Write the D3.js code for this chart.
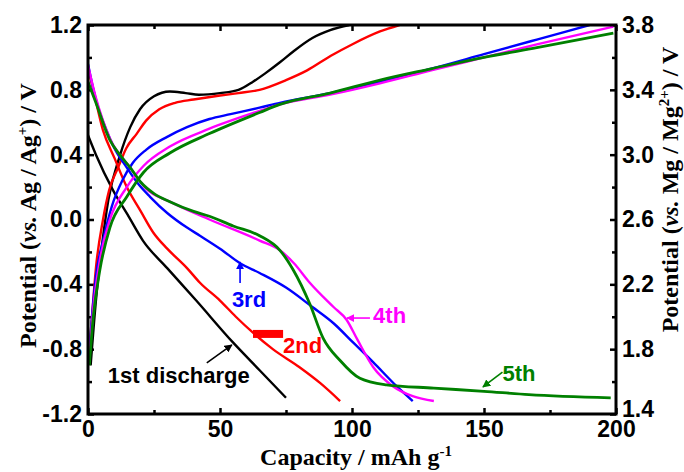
<!DOCTYPE html>
<html>
<head>
<meta charset="utf-8">
<script src="https://cdn.jsdelivr.net/npm/d3@7"></script>
<style>
  body { margin: 0; background: #fff; }
  .tick text { font-family: "Liberation Sans", Arial, sans-serif; font-weight: bold; font-size: 23px; fill: #000; }
  .axisTitle { font-family: "Liberation Serif", "Times New Roman", serif; font-weight: bold; font-size: 24px; fill: #000; }
  .note { font-family: "Liberation Sans", Arial, sans-serif; font-weight: bold; font-size: 22px; }
</style>
</head>
<body>
<div id="chart"></div>
<script>
// capacity (mAh/g) and potential (V vs Ag/Ag+) for each curve
var dis1Cap = [0, 3, 9.5, 15, 20.8, 30, 41, 55, 65, 75];
var dis1V   = [0.52, 0.40, 0.18, 0.03, -0.13, -0.30, -0.50, -0.76, -0.93, -1.10];
var chg1Cap = [1, 3, 5, 7.7, 12, 16, 19.7, 25, 31, 37, 42, 50, 57, 62.5, 67, 72.7, 78, 85, 92, 99];
var chg1V   = [-0.90, -0.50, -0.20, 0.12, 0.39, 0.57, 0.68, 0.76, 0.79, 0.78, 0.77, 0.78, 0.80, 0.85, 0.90, 0.97, 1.04, 1.12, 1.17, 1.20];

var dis2Cap = [0, 2, 5.7, 10, 14.7, 20, 24.7, 30, 37.5, 42.4, 50, 56, 62.6, 70, 80, 88, 95.5];
var dis2V   = [0.93, 0.80, 0.55, 0.38, 0.20, 0.05, -0.08, -0.18, -0.30, -0.39, -0.50, -0.60, -0.70, -0.80, -0.91, -1.01, -1.12];
var chg2Cap = [0.3, 1.5, 3, 5.7, 8, 11.4, 14.5, 18.5, 22, 27, 33, 40, 50, 57, 65, 75, 83, 92, 100, 110.6, 118];
var chg2V   = [-0.85, -0.60, -0.30, 0.0, 0.18, 0.32, 0.44, 0.53, 0.61, 0.68, 0.72, 0.74, 0.765, 0.78, 0.80, 0.86, 0.92, 1.01, 1.08, 1.16, 1.20];

var dis3Cap = [0, 1, 3, 7, 10, 14.7, 19, 23.5, 30, 37.5, 42.4, 50, 57.6, 65, 75, 85, 93, 100.5, 108, 117, 123];
var dis3V   = [0.96, 0.88, 0.74, 0.55, 0.44, 0.32, 0.22, 0.14, 0.04, -0.05, -0.10, -0.18, -0.27, -0.33, -0.42, -0.54, -0.64, -0.76, -0.88, -1.03, -1.12];
var chg3Cap = [0.3, 1.5, 3, 5.7, 9, 13, 17, 22, 30, 37.5, 46, 54, 65, 72.7, 91.7, 110.6, 130, 150, 170, 190];
var chg3V   = [-0.85, -0.60, -0.35, -0.13, 0.08, 0.24, 0.35, 0.43, 0.51, 0.57, 0.62, 0.65, 0.69, 0.72, 0.78, 0.85, 0.93, 1.02, 1.11, 1.20];

var dis4Cap = [0, 3, 8.3, 16, 22, 31, 46, 65, 72.7, 78, 84, 93, 98, 102, 108, 115.6, 123, 131];
var dis4V   = [0.95, 0.75, 0.50, 0.32, 0.19, 0.11, 0.0, -0.13, -0.19, -0.27, -0.39, -0.54, -0.62, -0.74, -0.91, -1.03, -1.09, -1.12];
var chg4Cap = [0.5, 2, 4.5, 8.3, 14.7, 21, 31, 46, 65, 72.7, 91.7, 110.6, 130, 150, 170, 199];
var chg4V   = [-0.85, -0.55, -0.25, 0.0, 0.20, 0.33, 0.45, 0.56, 0.67, 0.71, 0.77, 0.84, 0.92, 1.00, 1.08, 1.19];

var dis5Cap = [0, 3, 8.3, 12, 16, 20, 25, 31, 40, 46, 55, 65, 72.7, 77.7, 84, 89, 95.5, 103, 113, 131, 150, 167, 198];
var dis5V   = [0.85, 0.72, 0.49, 0.40, 0.32, 0.23, 0.16, 0.11, 0.05, 0.02, -0.04, -0.10, -0.19, -0.31, -0.52, -0.73, -0.87, -0.98, -1.02, -1.04, -1.06, -1.08, -1.10];
var chg5Cap = [0.5, 2, 4.5, 8.3, 14.7, 21, 31, 46, 65, 72.7, 91.7, 110.6, 130, 150, 170, 199];
var chg5V   = [-0.90, -0.60, -0.31, -0.05, 0.14, 0.29, 0.41, 0.53, 0.66, 0.71, 0.78, 0.86, 0.93, 1.00, 1.06, 1.15];

var curveColors = ["#000000", "#ff0000", "#0000ff", "#ff00ff", "#008000"];

var xTicks = [0, 50, 100, 150, 200];
var xMinor = [25, 75, 125, 175];
var yTicks = [-1.2, -0.8, -0.4, 0.0, 0.4, 0.8, 1.2];
var yMinor = [-1.0, -0.6, -0.2, 0.2, 0.6, 1.0];
var y2Ticks = [1.4, 1.8, 2.2, 2.6, 3.0, 3.4, 3.8];
var y2Minor = [1.6, 2.0, 2.4, 2.8, 3.2, 3.6];

var svgWidth = 684;
var svgHeight = 472;
var margin = { top: 25, right: 68, bottom: 58, left: 88 };
var width = svgWidth - margin.left - margin.right;
var height = svgHeight - margin.top - margin.bottom;

var svg = d3.select("#chart")
    .append("svg")
    .attr("width", svgWidth)
    .attr("height", svgHeight);

var chartGroup = svg.append("g")
    .attr("transform", `translate(${margin.left}, ${margin.top})`);

var xScale = d3.scaleLinear().domain([0, 200]).range([0, width]);
var yScale = d3.scaleLinear().domain([-1.2, 1.2]).range([height, 0]);
var y2Scale = d3.scaleLinear().domain([1.4, 3.8]).range([height, 0]);

var fmt1 = d => d.toFixed(1);

function styleAxis(g) {
    g.select(".domain").remove();
    g.selectAll(".tick line").attr("stroke", "#000").attr("stroke-width", 2.5);
}

// major + minor ticks, all pointing inward
chartGroup.append("g")
    .attr("transform", `translate(0, ${height})`)
    .call(d3.axisBottom(xScale).tickValues(xTicks).tickSize(-6).tickPadding(7).tickFormat(d3.format("d")))
    .call(styleAxis);
chartGroup.append("g")
    .attr("transform", `translate(0, ${height})`)
    .call(d3.axisBottom(xScale).tickValues(xMinor).tickSize(-4).tickFormat(""))
    .call(styleAxis);
chartGroup.append("g")
    .call(d3.axisTop(xScale).tickValues(xTicks).tickSize(-6).tickFormat(""))
    .call(styleAxis);
chartGroup.append("g")
    .call(d3.axisTop(xScale).tickValues(xMinor).tickSize(-4).tickFormat(""))
    .call(styleAxis);

chartGroup.append("g")
    .call(d3.axisLeft(yScale).tickValues(yTicks).tickSize(-6).tickPadding(6).tickFormat(fmt1))
    .call(styleAxis);
chartGroup.append("g")
    .call(d3.axisLeft(yScale).tickValues(yMinor).tickSize(-4).tickFormat(""))
    .call(styleAxis);

var rightAxis = chartGroup.append("g")
    .attr("transform", `translate(${width}, 0)`)
    .call(d3.axisRight(y2Scale).tickValues(y2Ticks).tickSize(-6).tickPadding(6).tickFormat(fmt1))
    .call(styleAxis);
// lowest label sits just above the "200" label, as in the original
rightAxis.selectAll(".tick text").filter(d => d == 1.4).attr("dy", "0.1em");
chartGroup.append("g")
    .attr("transform", `translate(${width}, 0)`)
    .call(d3.axisRight(y2Scale).tickValues(y2Minor).tickSize(-4).tickFormat(""))
    .call(styleAxis);

//curves
chartGroup.append("clipPath").attr("id", "plotClip")
    .append("rect").attr("width", width).attr("height", height);

var line = d3.line()
    .x(d => xScale(d[0]))
    .y(d => yScale(d[1]))
    .curve(d3.curveMonotoneX);

var curves = [
    [dis1Cap, dis1V, 0], [chg1Cap, chg1V, 0],
    [dis2Cap, dis2V, 1], [chg2Cap, chg2V, 1],
    [dis3Cap, dis3V, 2], [chg3Cap, chg3V, 2],
    [dis4Cap, dis4V, 3], [chg4Cap, chg4V, 3],
    [dis5Cap, dis5V, 4], [chg5Cap, chg5V, 4]
];

var plot = chartGroup.append("g").attr("clip-path", "url(#plotClip)");
curves.forEach(function(c) {
    var pts = c[0].map((x, i) => [x, c[1][i]]);
    plot.append("path")
        .datum(pts)
        .attr("d", line)
        .attr("fill", "none")
        .attr("stroke", curveColors[c[2]])
        .attr("stroke-width", c[2] == 4 ? 2.8 : 2.4);
});

// frame
chartGroup.append("rect")
    .attr("width", width)
    .attr("height", height)
    .attr("fill", "none")
    .attr("stroke", "#000")
    .attr("stroke-width", 3);

// annotations
var defs = svg.append("defs");
curveColors.forEach(function(col, i) {
    defs.append("marker")
        .attr("id", "arrow" + i)
        .attr("viewBox", "0 0 10 10")
        .attr("refX", 9).attr("refY", 5)
        .attr("markerWidth", 5).attr("markerHeight", 5)
        .attr("orient", "auto")
        .append("path")
        .attr("d", "M0,0 L10,5 L0,10 z")
        .attr("fill", col);
});

var notes = [
    { text: "1st discharge", c: 0, x: 7.5, y: -1.01, ax: [45, -0.885], ah: [54.5, -0.774] },
    { text: "2nd", c: 1, x: 73.9, y: -0.824, ax: [73.9, -0.706], ah: [62.5, -0.706] },
    { text: "3rd", c: 2, x: 54.5, y: -0.54, ax: [57.6, -0.392], ah: [57.6, -0.262] },
    { text: "4th", c: 3, x: 108, y: -0.64, ax: [106.8, -0.608], ah: [98.1, -0.608] },
    { text: "5th", c: 4, x: 157, y: -0.996, ax: [157, -0.941], ah: [149.6, -1.033] }
];

notes.forEach(function(n) {
    chartGroup.append("line")
        .attr("x1", xScale(n.ax[0])).attr("y1", yScale(n.ax[1]))
        .attr("x2", xScale(n.ah[0])).attr("y2", yScale(n.ah[1]))
        .attr("stroke", curveColors[n.c])
        .attr("stroke-width", n.c == 1 ? 8 : 1.6)
        .attr("marker-end", n.c == 1 ? null : "url(#arrow" + n.c + ")");
    chartGroup.append("text")
        .attr("class", "note")
        .attr("x", xScale(n.x))
        .attr("y", yScale(n.y))
        .attr("fill", curveColors[n.c])
        .text(n.text);
});

// axis titles
var leftTitle = svg.append("text")
    .attr("class", "axisTitle")
    .attr("transform", `translate(36, ${margin.top + height / 2 - 4}) rotate(-90)`)
    .attr("text-anchor", "middle");
leftTitle.append("tspan").text("Potential (");
leftTitle.append("tspan").attr("font-style", "italic").text("vs.");
leftTitle.append("tspan").text(" Ag / Ag");
leftTitle.append("tspan").attr("dy", -9).attr("font-size", "15px").text("+");
leftTitle.append("tspan").attr("dy", 9).text(") / V");

var rightTitle = svg.append("text")
    .attr("class", "axisTitle")
    .attr("transform", `translate(678, ${margin.top + height / 2 - 30}) rotate(-90)`)
    .attr("text-anchor", "middle");
rightTitle.append("tspan").text("Potential (");
rightTitle.append("tspan").attr("font-style", "italic").text("vs.");
rightTitle.append("tspan").text(" Mg / Mg");
rightTitle.append("tspan").attr("dy", -9).attr("font-size", "15px").text("2+");
rightTitle.append("tspan").attr("dy", 9).text(") / V");

var bottomTitle = svg.append("text")
    .attr("class", "axisTitle")
    .attr("x", 356)
    .attr("y", 465)
    .attr("font-size", "25px")
    .attr("text-anchor", "middle");
bottomTitle.append("tspan").text("Capacity / mAh g");
bottomTitle.append("tspan").attr("dy", -9).attr("font-size", "15px").text("-1");
</script>
</body>
</html>
